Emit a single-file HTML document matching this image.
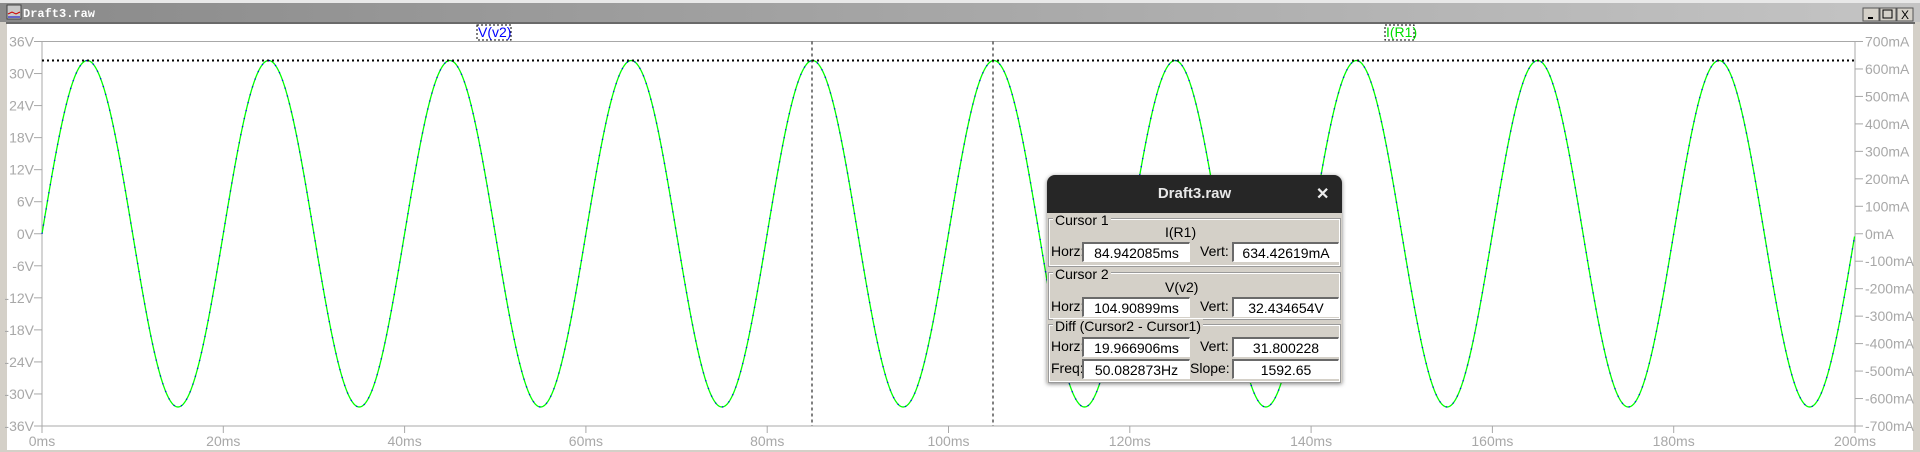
<!DOCTYPE html>
<html><head><meta charset="utf-8">
<style>
html,body{margin:0;padding:0;width:1920px;height:452px;overflow:hidden;background:#d4d0c8;font-family:"Liberation Sans",sans-serif;}
#win{position:absolute;left:0;top:0;width:1920px;height:452px;}
.fld{position:absolute;background:#fff;border-top:2px solid #6a6a6a;border-left:2px solid #6a6a6a;border-right:1px solid #fff;border-bottom:1px solid #fff;box-sizing:border-box;height:20px;font-size:14px;text-align:center;line-height:18px;color:#000;}
.lbl{position:absolute;font-size:14px;color:#000;}
.grp{position:absolute;border:1px solid #fff;outline:1px solid #9a9a9a;box-sizing:border-box;}
.gt{position:absolute;background:#d4d0c8;font-size:14px;padding:0 2px;line-height:14px;}
</style></head><body>
<div id="win">
<svg id="chart" width="1920" height="452" style="position:absolute;left:0;top:0">
  <defs><linearGradient id="tb" x1="0" x2="1"><stop offset="0" stop-color="#8a8a8a"/><stop offset="1" stop-color="#c4c4c4"/></linearGradient></defs>
  <rect x="0" y="0" width="1920" height="452" fill="#d4d0c8"/>
  <rect x="0" y="0" width="1920" height="3" fill="#e8e8e8"/>
  <rect x="0" y="3" width="1920" height="19" fill="url(#tb)"/>
  <rect x="7" y="5" width="14" height="14" fill="#c8c8c8" stroke="#444" stroke-width="1"/>
  <path d="M8 14 L12 12 L16 14 L20 12" stroke="#c00" fill="none"/>
  <path d="M8 17 L20 17" stroke="#00c" fill="none"/>
  <text x="23" y="17" font-size="12" fill="#fff" font-family="Liberation Mono, monospace" font-weight="bold">Draft3.raw</text>
  <g>
    <rect x="1863" y="8" width="16" height="13" fill="#d4d0c8" stroke="#555"/><rect x="1868" y="17" width="5" height="2" fill="#000"/>
    <rect x="1880" y="8" width="16" height="13" fill="#d4d0c8" stroke="#555"/><rect x="1883" y="10" width="9" height="8" fill="none" stroke="#000"/>
    <rect x="1897" y="8" width="16" height="13" fill="#d4d0c8" stroke="#555"/><text x="1901" y="19" font-size="12" fill="#000">X</text>
  </g>
  <rect x="6" y="22" width="1909" height="2" fill="#6a6a6a"/>
  <rect x="7" y="24" width="1906" height="426" fill="#fff"/>
  <rect x="42" y="41.5" width="1813" height="384.5" fill="none" stroke="#a8a8a8" stroke-width="1"/>
  <g id="axes"></g>
  <g id="series"></g>
  <g id="cursors"></g>
  <rect x="477" y="25" width="34" height="15" fill="none" stroke="#000" stroke-dasharray="2 2"/>
  <text x="478" y="37" font-size="14" fill="#0000ff">V(v2)</text>
  <rect x="1385" y="25" width="29" height="15" fill="none" stroke="#000" stroke-dasharray="2 2"/>
  <text x="1386" y="37" font-size="14" fill="#00e000">I(R1)</text>
</svg>

<div style="position:absolute;left:1047px;top:175px;width:295px;height:208px;background:#d4d0c8;border-radius:8px 8px 0 0;box-shadow:0 1px 4px rgba(0,0,0,.5);">
  <div style="position:absolute;left:0;top:0;width:295px;height:38px;background:#262626;border-radius:8px 8px 0 0;color:#e8e8e8;font-size:15px;font-weight:bold;text-align:center;line-height:38px;">Draft3.raw</div>
  <div style="position:absolute;left:269px;top:9px;color:#eee;font-size:16px;font-weight:bold;">✕</div>
  <div class="grp" style="left:2px;top:44px;width:291px;height:47px;"></div>
  <div class="gt" style="left:6px;top:38px">Cursor 1</div>
  <div class="lbl" style="left:118px;top:49px">I(R1)</div>
  <div class="lbl" style="left:4px;top:68px">Horz:</div>
  <div class="fld" style="left:35px;top:67px;width:108px">84.942085ms</div>
  <div class="lbl" style="left:153px;top:68px">Vert:</div>
  <div class="fld" style="left:185px;top:67px;width:107px">634.42619mA</div>
  <div class="grp" style="left:2px;top:98px;width:291px;height:46px;"></div>
  <div class="gt" style="left:6px;top:92px">Cursor 2</div>
  <div class="lbl" style="left:118px;top:104px">V(v2)</div>
  <div class="lbl" style="left:4px;top:123px">Horz:</div>
  <div class="fld" style="left:35px;top:122px;width:108px">104.90899ms</div>
  <div class="lbl" style="left:153px;top:123px">Vert:</div>
  <div class="fld" style="left:185px;top:122px;width:107px">32.434654V</div>
  <div class="grp" style="left:2px;top:150px;width:291px;height:57px;"></div>
  <div class="gt" style="left:6px;top:144px">Diff (Cursor2 - Cursor1)</div>
  <div class="lbl" style="left:4px;top:163px">Horz:</div>
  <div class="fld" style="left:35px;top:162px;width:108px">19.966906ms</div>
  <div class="lbl" style="left:153px;top:163px">Vert:</div>
  <div class="fld" style="left:185px;top:162px;width:107px">31.800228</div>
  <div class="lbl" style="left:4px;top:185px">Freq:</div>
  <div class="fld" style="left:35px;top:184px;width:108px">50.082873Hz</div>
  <div class="lbl" style="left:143px;top:185px">Slope:</div>
  <div class="fld" style="left:185px;top:184px;width:107px">1592.65</div>
</div>
</div>
<script>
const xTicksMs = [0,20,40,60,80,100,120,140,160,180,200];
const yTicksV = [36,30,24,18,12,6,0,-6,-12,-18,-24,-30,-36];
const yTicksMA = [700,600,500,400,300,200,100,0,-100,-200,-300,-400,-500,-600,-700];
const signalAmplitudeV = [32.434654];
const signalFrequencyHz = [50];
const cursorTimesMs = [84.942085, 104.90899];
const cursorLevelV = [32.434654];

const NS='http://www.w3.org/2000/svg';
const L=42,R=1855,T=41.5,B=426;
const xs=t=>L+(t-0)/(200-0)*(R-L);
const yv=v=>T+(36-v)/72*(B-T);
const ya=a=>T+(700-a)/1400*(B-T);
function mk(tag,attrs,parent,txt){const e=document.createElementNS(NS,tag);for(const k in attrs)e.setAttribute(k,attrs[k]);if(txt!==undefined)e.textContent=txt;parent.appendChild(e);return e;}
const ax=document.getElementById('axes');
xTicksMs.forEach(t=>{
  mk('line',{x1:xs(t),x2:xs(t),y1:B,y2:B+7,stroke:'#a8a8a8'},ax);
  const tx=mk('text',{x:xs(t),y:446,'font-size':14,fill:'#a8a8a8','text-anchor':'middle'},ax,t+'ms');
  
  
});
yTicksV.forEach(v=>{
  mk('line',{x1:L-8,x2:L,y1:yv(v),y2:yv(v),stroke:'#a8a8a8'},ax);
  const tx=mk('text',{x:34,y:yv(v)+5,'font-size':14,fill:'#a8a8a8','text-anchor':'end'},ax,v+'V');
  
  
});
yTicksMA.forEach(a=>{
  mk('line',{x1:R,x2:R+8,y1:ya(a),y2:ya(a),stroke:'#a8a8a8'},ax);
  const tx=mk('text',{x:1865,y:ya(a)+5,'font-size':14,fill:'#a8a8a8'},ax,a+'mA');
  
  
});
const sg=document.getElementById('series');
let pts=[];
for(let t=0;t<=200;t+=0.05){pts.push(xs(t).toFixed(2)+','+yv(signalAmplitudeV[0]*Math.sin(2*Math.PI*signalFrequencyHz[0]*t/1000)).toFixed(2));}
const g=mk('polyline',{points:pts.join(' '),fill:'none',stroke:'#00ff00','stroke-width':1.3},sg);


const bl=mk('polyline',{points:pts.join(' '),fill:'none',stroke:'#0000ff','stroke-width':1.3,'stroke-dasharray':'1.2 7'},sg);


const cg=document.getElementById('cursors');
const hl=mk('line',{x1:L,x2:R,y1:yv(cursorLevelV[0]),y2:yv(cursorLevelV[0]),stroke:'#000','stroke-width':2,'stroke-dasharray':'2 3'},cg);


cursorTimesMs.forEach(t=>{
  const l=mk('line',{x1:xs(t),x2:xs(t),y1:T,y2:B,stroke:'#000','stroke-width':1,'stroke-dasharray':'3 3'},cg);
  
  
});
</script>
</body></html>
